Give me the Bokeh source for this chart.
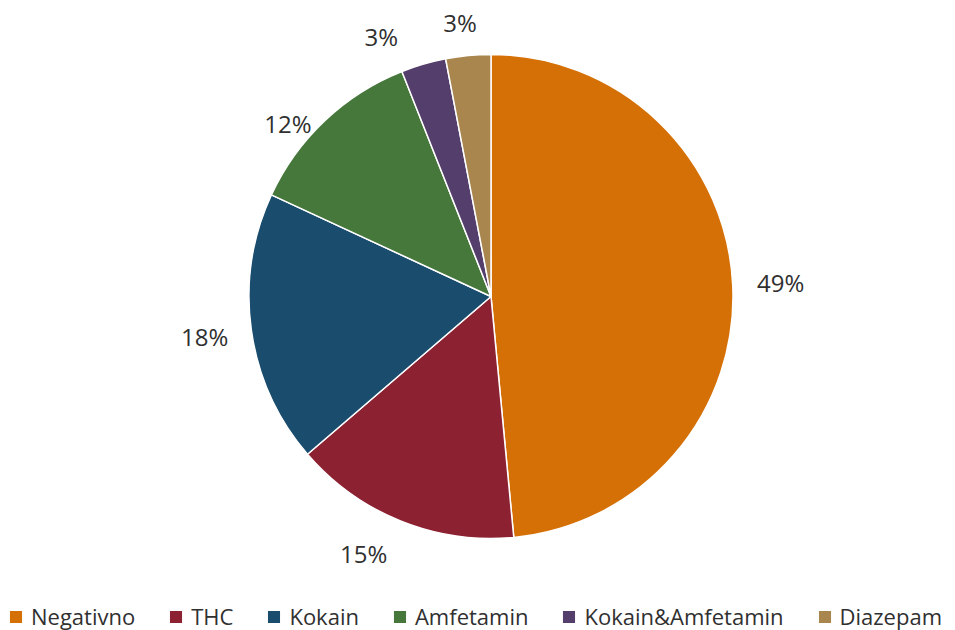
import numpy as np
from bokeh.plotting import figure
from bokeh.models import Range1d, Legend, LegendItem, ColumnDataSource
from bokeh.core.properties import value
from bokeh.embed import file_html
from bokeh.resources import INLINE

categories = ["Negativno", "THC", "Kokain", "Amfetamin", "Kokain&Amfetamin", "Diazepam"]
shares = [48.5, 15.2, 18.2, 12.1, 3.0, 3.0]
colors = ["#D57007", "#8C2131", "#1A4C6E", "#46773B", "#543F6C", "#AA864F"]

# label placement tweaks (radial distance and tangential shift, px)
label_radial = [290, 286, 289, 265, 280, 276]
label_tangent = [0, -22, 0, 29, 33, 5]

W, H = 955, 630
p = figure(width=W, height=H, x_range=Range1d(0, W), y_range=Range1d(0, H),
           output_backend="svg", toolbar_location=None, min_border=0)
p.axis.visible = False
p.grid.visible = False
p.outline_line_color = None
p.background_fill_color = "white"
p.border_fill_color = "white"

# centre in page pixels
pcx, pcy, R = 490.5, 296.0, 242
cx, cy = pcx, H - pcy

vals = np.array(shares, dtype=float)
frac = vals / vals.sum()
cum = np.concatenate([[0], np.cumsum(frac)])
start = np.pi / 2 - 2 * np.pi * cum[:-1]
end = np.pi / 2 - 2 * np.pi * cum[1:]
pct = [f"{int(np.floor(f * 100 + 0.5 + 1e-9))}%" for f in frac]

src = ColumnDataSource(dict(cat=categories, start=start, end=end, color=colors, pct=pct))
r = p.wedge(x=cx, y=cy, radius=R, start_angle="start", end_angle="end", direction="clock",
            fill_color="color", line_color="white", line_width=1.5, source=src)

# labels: computed in page coords (y down), then converted
mid_cw = 2 * np.pi * (cum[:-1] + cum[1:]) / 2  # clockwise from top
ux, uy = np.sin(mid_cw), -np.cos(mid_cw)
nx, ny = uy, -ux
dr = np.array(label_radial, dtype=float)
dt = np.array(label_tangent, dtype=float)
lx = pcx + dr * ux + dt * nx
ly_page = pcy + dr * uy + dt * ny
p.text(x=lx, y=H - ly_page, text=pct, text_align="center", text_baseline="middle",
       text_font=value("Open Sans"), text_font_size="24px", text_color="#303030")

items = [LegendItem(label=c, renderers=[r], index=i) for i, c in enumerate(categories)]
legend = Legend(items=items, orientation="horizontal", location=(7, -1),
                glyph_width=17, glyph_height=17, label_standoff=7, spacing=32,
                padding=0, margin=0, border_line_color=None, background_fill_alpha=0,
                label_text_font="Open Sans", label_text_font_size="22px",
                label_text_color="#303030")
p.add_layout(legend)

open("out.html", "w").write(file_html(p, INLINE))
